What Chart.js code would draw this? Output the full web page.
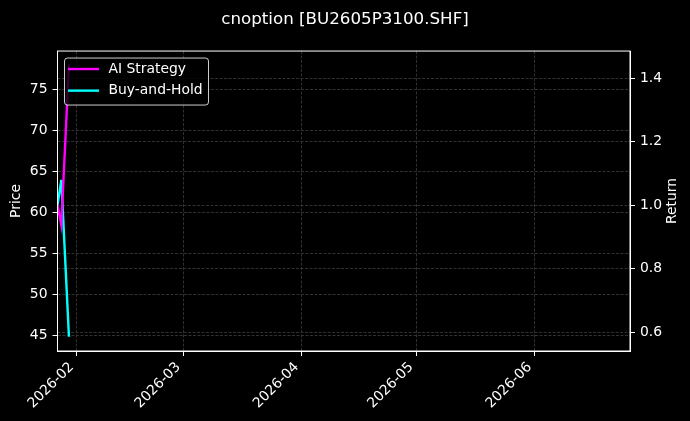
<!DOCTYPE html>
<html>
<head>
<meta charset="utf-8">
<script src="https://cdn.jsdelivr.net/npm/chart.js@4.4.1/dist/chart.umd.min.js"></script>
<style>
  html, body { margin: 0; padding: 0; background: #000; }
  #wrap { width: 690px; height: 421px; }
</style>
</head>
<body>
<div id="wrap"><canvas id="chart"></canvas></div>
<script>
const dates = ['2026-01-27', '2026-01-28', '2026-01-30'];
const aiStrategy = [1.000, 0.938, 1.443];
const buyAndHold = [1.000, 1.080, 0.586];
const monthTicks = ['2026-02', '2026-03', '2026-04', '2026-05', '2026-06'];
const xRange = ['2026-01-27', '2026-06-26'];
const priceRange = [43.05, 79.68];
const returnRange = [0.541, 1.486];

const DAY = 86400000;
const FONT = '"DejaVu Sans", "Liberation Sans", sans-serif';

function toDay(s) {
  const [y, m, d] = s.split('-').map(Number);
  return Date.UTC(y, m - 1, d || 1) / DAY;
}

function fmtMonth(v) {
  const dt = new Date(Math.round(v) * DAY);
  return dt.getUTCFullYear() + '-' + String(dt.getUTCMonth() + 1).padStart(2, '0');
}

const pts = arr => arr.map((v, i) => ({ x: toDay(dates[i]), y: v }));

// legend inside the plot, spines and the right-hand label (matplotlib style)
const extras = {
  id: 'extras',
  afterDatasetsDraw(chart) {
    const { ctx, chartArea: a } = chart;
    ctx.save();
    ctx.strokeStyle = '#fff';
    ctx.lineWidth = 1;
    ctx.strokeRect(a.left, a.top, a.right - a.left, a.bottom - a.top);

    const x = a.left + 7, y = a.top + 7, w = 144, h = 47;
    ctx.beginPath();
    ctx.roundRect(x, y, w, h, 3);
    ctx.fillStyle = 'rgba(0,0,0,0.8)';
    ctx.fill();
    ctx.strokeStyle = 'rgba(255,255,255,0.8)';
    ctx.stroke();

    ctx.font = '13.9px ' + FONT;
    ctx.textBaseline = 'middle';
    chart.data.datasets.forEach((ds, i) => {
      const ry = y + 11 + i * 21.6;
      ctx.strokeStyle = ds.borderColor;
      ctx.lineWidth = 2.4;
      ctx.beginPath();
      ctx.moveTo(x + 3.5, ry);
      ctx.lineTo(x + 34.5, ry);
      ctx.stroke();
      ctx.fillStyle = '#fff';
      ctx.fillText(ds.label, x + 44, ry);
    });

    ctx.translate(672, (a.top + a.bottom) / 2);
    ctx.rotate(-Math.PI / 2);
    ctx.textAlign = 'center';
    ctx.fillText('Return', 0, 0);
    ctx.restore();
  }
};

const gridStyle = { color: '#3c3c3c', lineWidth: 0.8, tickColor: '#fff', tickLength: 5, tickWidth: 1 };
const borderStyle = { color: '#fff', width: 1, dash: [3, 1.5] };
const tickFont = { family: FONT, size: 13.9 };

new Chart(document.getElementById('chart'), {
  type: 'line',
  data: {
    datasets: [
      { label: 'AI Strategy', data: pts(aiStrategy), yAxisID: 'ret', borderColor: '#ff00ff', borderWidth: 2.4, pointRadius: 0, tension: 0 },
      { label: 'Buy-and-Hold', data: pts(buyAndHold), yAxisID: 'ret', borderColor: '#00ffff', borderWidth: 2.4, pointRadius: 0, tension: 0 }
    ]
  },
  options: {
    responsive: true,
    maintainAspectRatio: false,
    animation: false,
    layout: { padding: 0 },
    plugins: {
      legend: { display: false },
      tooltip: { enabled: false },
      title: {
        display: true,
        text: 'cnoption [BU2605P3100.SHF]',
        color: '#fff',
        font: { family: FONT, size: 16.7, weight: 'normal' },
        padding: { top: 10, bottom: 21 }
      }
    },
    scales: {
      x: {
        type: 'linear',
        min: toDay(xRange[0]),
        max: toDay(xRange[1]),
        afterBuildTicks: s => { s.ticks = monthTicks.map(m => ({ value: toDay(m) })); },
        afterFit: s => { s.height = 70; },
        ticks: { color: '#fff', font: tickFont, minRotation: 45, maxRotation: 45, autoSkip: false, padding: 3, labelOffset: -5, callback: v => fmtMonth(v) },
        grid: gridStyle,
        border: borderStyle
      },
      price: {
        type: 'linear',
        position: 'left',
        min: priceRange[0],
        max: priceRange[1],
        afterFit: s => { s.width = 57.5; },
        ticks: { color: '#fff', font: tickFont, stepSize: 5, includeBounds: false, padding: 5 },
        grid: gridStyle,
        border: borderStyle,
        title: { display: true, text: 'Price', color: '#fff', font: tickFont, padding: { top: 8 } }
      },
      ret: {
        type: 'linear',
        position: 'right',
        min: returnRange[0],
        max: returnRange[1],
        afterFit: s => { s.width = 60; },
        ticks: { color: '#fff', font: tickFont, stepSize: 0.2, includeBounds: false, padding: 5, callback: v => v.toFixed(1) },
        grid: gridStyle,
        border: borderStyle
      }
    }
  },
  plugins: [extras]
});
</script>
</body>
</html>
